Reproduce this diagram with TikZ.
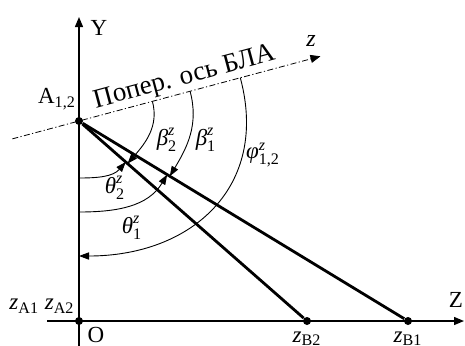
\documentclass[tikz,border=0pt]{standalone}
\usepackage{amsmath}
\usepackage{fontspec}
\setmainfont{Liberation Serif}
\usetikzlibrary{arrows.meta,positioning,calc}
\newcommand{\anglbl}[2]{$\textit{#1}^{\textit{z}}_{\text{#2}}$}

\begin{document}
\begin{tikzpicture}[x=0.5pt,y=0.5pt,font=\fontsize{11.5}{13}\selectfont,
  dot/.style={circle,fill=black,inner sep=0pt,minimum size=4pt},
  axis/.style={line width=0.65pt,-{Triangle[length=5pt,width=4pt]}},
  ray/.style={line width=1.4pt},
  angarc/.style={line width=0.45pt,-{Triangle[length=5pt,width=3.6pt]}},
  lbl/.style={inner sep=0pt}]
  \useasboundingbox (0,0) rectangle (465,345);
  % points on the axes
  \node[dot] (O) at (79,24) {};
  \node[dot] (A) at (79,224) {};
  \node[dot] (B2) at (307,24) {};
  \node[dot] (B1) at (408,24) {};
  \coordinate (Ybot) at (79,-2);
  \coordinate (Ytop) at (79,328);
  \coordinate (Zbeg) at (47,24);
  \coordinate (Zend) at (464,24);
  \coordinate (zbeg) at ($(A)+(195:69)$);
  \coordinate (zend) at ($(A)+(15:250)$);
  % axes
  \draw[axis] (Ybot) -- (Ytop);
  \draw[axis] (Zbeg) -- (Zend);
  \draw[line width=0.4pt,dash pattern=on 3pt off 1.2pt on 0.6pt off 1.2pt,
        -{Triangle[length=5pt,width=4pt]}] (zbeg) -- (zend);
  \draw[ray] (A) -- (B2);
  \draw[ray] (A) -- (B1);
  % angle arcs
  \coordinate (t2s) at ($(A)+(-90:57)$);
  \coordinate (t2e) at ($(A)!0.205!(B2)$);
  \coordinate (b2s) at ($(A)+(15:76)$);
  \coordinate (b2e) at ($(A)!0.213!(B2)$);
  \coordinate (t1s) at ($(A)+(-90:91)$);
  \coordinate (t1e) at ($(A)!0.268!(B1)$);
  \coordinate (b1s) at ($(A)+(15:115)$);
  \coordinate (b1e) at ($(A)!0.276!(B1)$);
  \coordinate (fs) at ($(A)+(15:167)$);
  \coordinate (fe) at ($(A)+(-90:135)$);
  \draw[angarc] (t2s) to[out=0,in=229] (t2e);
  \draw[angarc] (b2s) to[out=-75,in=49] (b2e);
  \draw[angarc] (t1s) to[out=0,in=239] (t1e);
  \draw[angarc] (b1s) to[out=-75,in=59] (b1e);
  \draw[angarc] (fs) to[out=-75,in=0,looseness=1.2] (fe);
  % labels
  \node[lbl] (ylbl) at (99,317) {Y};
  \node[lbl] (zlbl) at (456,45) {Z};
  \node[lbl] (olbl) at (96,10) {O};
  \node[lbl] (albl) at (57,246) {A\textsubscript{1,2}};
  \node[lbl] (zalbl) at (42,39) {\textit{z}\textsubscript{A1} \textit{z}\textsubscript{A2}};
  \node[lbl,below=3pt of B2] (zb2lbl) {\textit{z}\textsubscript{B2}};
  \node[lbl,below=3pt of B1] (zb1lbl) {\textit{z}\textsubscript{B1}};
  \node[lbl,font=\fontsize{12}{14}\selectfont] (zaxlbl) at (311,304) {\textit{z}};
  \node[rotate=15,anchor=south,inner sep=1pt,font=\fontsize{13.5}{15}\selectfont]
    (axname) at ($(A)+(15:113)$) {Попер. ось БЛА};
  \node[lbl] (b2lbl) at (167,205) {\anglbl{β}{2}};
  \node[lbl] (b1lbl) at (206,205) {\anglbl{β}{1}};
  \node[lbl] (t2lbl) at (115,157) {\anglbl{θ}{2}};
  \node[lbl] (t1lbl) at (132,117) {\anglbl{θ}{1}};
  \node[lbl] (flbl) at (263,190) {\anglbl{φ}{1,2}};
\end{tikzpicture}
\end{document}
